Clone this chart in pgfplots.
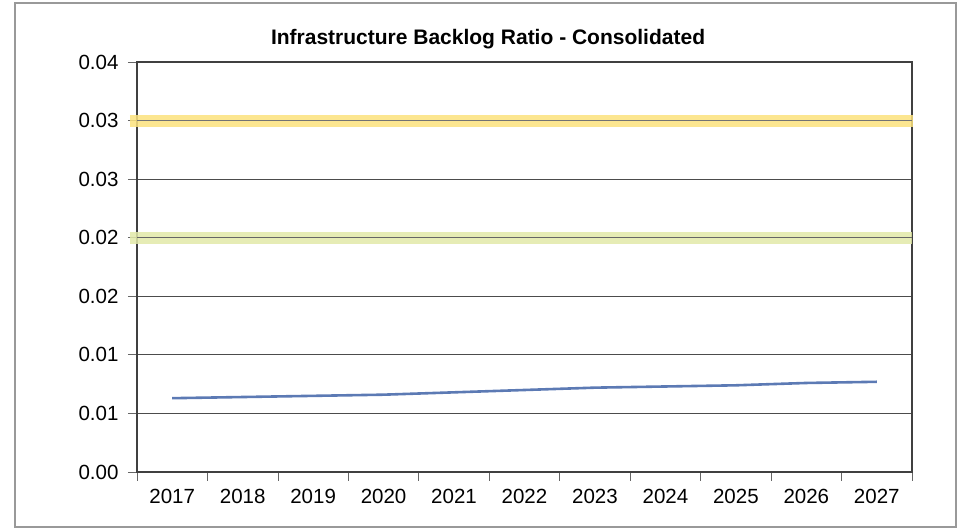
\documentclass[border=0pt]{standalone}
\usepackage{pgfplots}
\pgfplotsset{compat=1.18}
\usepackage{fontspec}
\setmainfont{Liberation Sans}
\definecolor{bandyellow}{RGB}{252,226,125}
\definecolor{bandgreen}{RGB}{226,233,168}
\definecolor{lineblue}{RGB}{92,122,180}
\begin{document}
\begin{tikzpicture}[x=1pt,y=1pt]
\useasboundingbox (-137,-57) rectangle (822,472);
\draw[black!40, line width=1.5pt] (-122,-55) rectangle (819,469);
\begin{axis}[
  at={(0,0)}, anchor=south west,
  scale only axis, width=775pt, height=410pt,
  xmin=-0.5, xmax=10.5, ymin=0, ymax=0.035,
  xtick={-0.5,0.5,...,10.5}, xticklabel={\mbox{}},
  extra x ticks={0,1,2,3,4,5,6,7,8,9,10},
  extra x tick labels={2017,2018,2019,2020,2021,2022,2023,2024,2025,2026,2027},
  extra x tick style={major tick length=0pt, tick style={draw=none}},
  ytick={0,0.005,0.01,0.015,0.02,0.025,0.03,0.035},
  yticklabels={0.00,0.01,0.01,0.02,0.02,0.03,0.03,0.04},
  scaled y ticks=false,
  xtick pos=bottom, ytick pos=left,
  major tick length=9pt,
  tick align=outside,
  tick style={black!60, line width=0.8pt},
  ymajorgrids, major grid style={black!70, line width=0.9pt},
  axis line style={black!75, line width=1.1pt},
  ticklabel style={font=\fontsize{20.5}{24}\selectfont},
  xticklabel style={yshift=-14pt},
  yticklabel style={xshift=-6pt},
  title={Infrastructure Backlog Ratio - Consolidated},
  title style={font=\fontsize{21}{25}\selectfont\bfseries, at={(axis description cs:0.453,1.04)}, anchor=center},
  clip=false,
]
\addplot[bandyellow, line width=12pt, opacity=0.85] coordinates {(-0.6,0.03) (10.52,0.03)};
\addplot[black!55, line width=0.8pt] coordinates {(-0.5,0.03) (10.5,0.03)};
\addplot[bandgreen, line width=12pt, opacity=0.85] coordinates {(-0.6,0.02) (10.5,0.02)};
\addplot[black!60, line width=0.9pt] coordinates {(-0.5,0.02) (10.5,0.02)};
\addplot[lineblue, line width=2.6pt, no marks] coordinates {
 (0,0.0063) (1,0.0064) (2,0.0065) (3,0.0066) (4,0.0068) (5,0.0070)
 (6,0.0072) (7,0.0073) (8,0.0074) (9,0.0076) (10,0.0077)};
\end{axis}
\end{tikzpicture}
\end{document}
